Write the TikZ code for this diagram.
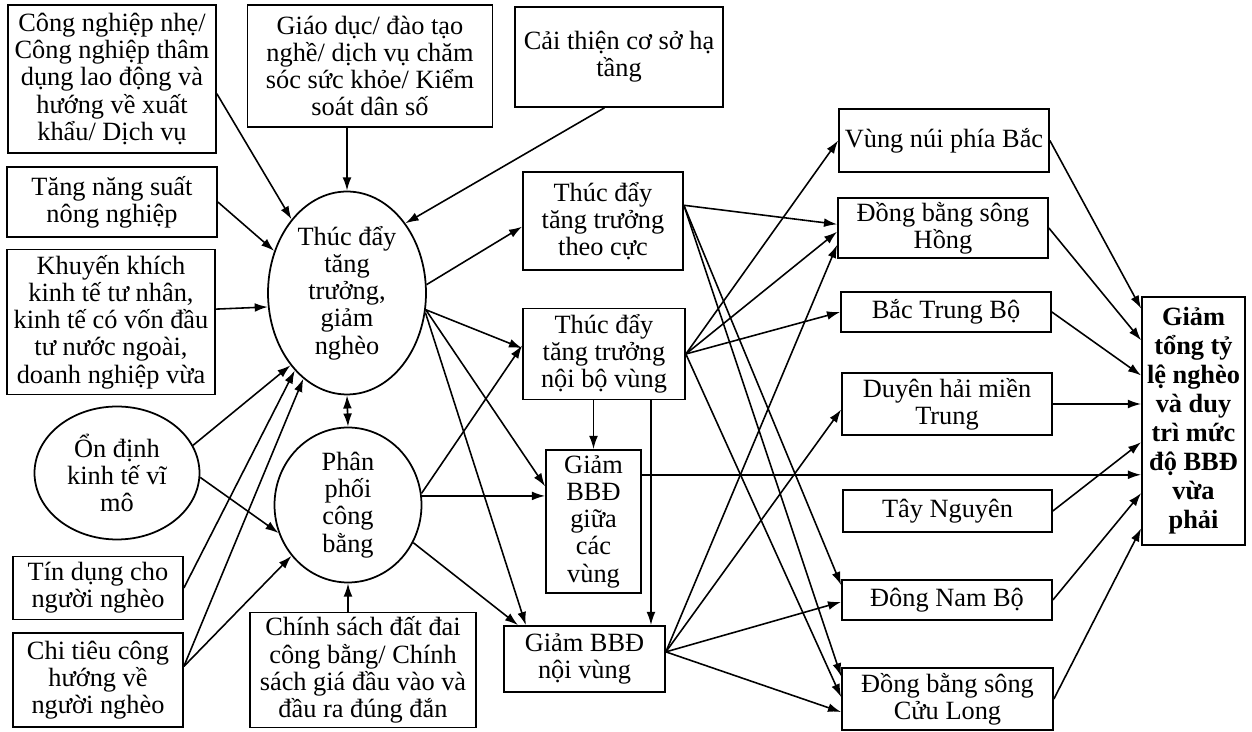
\documentclass[tikz,border=0pt]{standalone}
\usepackage{fontspec}
\setmainfont{Liberation Serif}
\usetikzlibrary{shapes.geometric,arrows,arrows.meta,positioning}

\begin{document}
\begin{tikzpicture}[x=0.02cm,y=-0.02cm,>={Latex[length=7.5pt,width=5pt]},
  box/.style={draw,line width=1pt,align=center,inner sep=1pt,font=\fontsize{15}{15.5}\selectfont},
  oval/.style={draw,ellipse,line width=1pt,align=center,inner sep=0pt,font=\fontsize{15}{15.5}\selectfont},
  link/.style={->,line width=0.9pt}]
\useasboundingbox (0,0) rectangle (1252,732);

% left column
\node (cn) at (112,79) [box,minimum width=4.16cm,minimum height=2.96cm] {Công nghiệp nhẹ/\\Công nghiệp thâm\\dụng lao động và\\hướng về xuất\\khẩu/ Dịch vụ};
\node (nn) at (112,202) [box,minimum width=4.2cm,minimum height=1.4cm] {Tăng năng suất\\nông nghiệp};
\node (kk) at (111,322) [box,minimum width=4.16cm,minimum height=2.9cm] {Khuyến khích\\kinh tế tư nhân,\\kinh tế có vốn đầu\\tư nước ngoài,\\doanh nghiệp vừa};
\node (od) at (117,473) [oval,minimum width=3.3cm,minimum height=2.66cm] {Ổn định\\kinh tế vĩ\\mô};
\node (td) at (98,588) [box,minimum width=3.4cm,minimum height=1.26cm] {Tín dụng cho\\người nghèo};
\node (ct) at (98,680) [box,minimum width=3.4cm,minimum height=1.88cm] {Chi tiêu công\\hướng về\\người nghèo};

% top and centre
\node (gd) at (370,66) [box,minimum width=4.9cm,minimum height=2.44cm] {Giáo dục/ đào tạo\\nghề/ dịch vụ chăm\\sóc sức khỏe/ Kiểm\\soát dân số};
\node (ht) at (619,57) [box,minimum width=4.16cm,minimum height=2cm] {Cải thiện cơ sở hạ\\tầng};
\node (tt) at (347,293) [oval,minimum width=3.16cm,minimum height=4.06cm] {Thúc đẩy\\tăng\\trưởng,\\giảm\\nghèo};
\node (pp) at (348,505) [oval,minimum width=2.94cm,minimum height=3.1cm] {Phân\\phối\\công\\bằng};
\node (cs) at (363,670) [box,minimum width=4.52cm,minimum height=2.3cm] {Chính sách đất đai\\công bằng/ Chính\\sách giá đầu vào và\\đầu ra đúng đắn};

% middle column
\node (cuc) at (603,221) [box,minimum width=3.2cm,minimum height=1.96cm] {Thúc đẩy\\tăng trưởng\\theo cực};
\node (nb) at (604,354) [box,minimum width=3.24cm,minimum height=1.82cm] {Thúc đẩy\\tăng trưởng\\nội bộ vùng};
\node (gv) at (593.5,521.5) [box,minimum width=1.9cm,minimum height=2.86cm] {Giảm\\BBĐ\\giữa\\các\\vùng};
\node (nv) at (584.5,659) [box,minimum width=3.22cm,minimum height=1.32cm] {Giảm BBĐ\\nội vùng};

% regions
\node (bac) at (944,140.5) [box,minimum width=4.2cm,minimum height=1.26cm] {Vùng núi phía Bắc};
\node (hong) at (943,228) [box,minimum width=4.2cm,minimum height=1.2cm] {Đồng bằng sông\\Hồng};
\node (btb) at (946,312) [box,minimum width=4.2cm,minimum height=0.8cm] {Bắc Trung Bộ};
\node (dhmt) at (947,404) [box,minimum width=4.2cm,minimum height=1.24cm] {Duyên hải miền\\Trung};
\node (tn) at (947.5,511) [box,minimum width=4.18cm,minimum height=0.84cm] {Tây Nguyên};
\node (dnb) at (947,600) [box,minimum width=4.2cm,minimum height=0.8cm] {Đông Nam Bộ};
\node (cl) at (947.5,699) [box,minimum width=4.22cm,minimum height=1.24cm] {Đồng bằng sông\\Cửu Long};

\node (goal) at (1193.5,421) [box,minimum width=2.06cm,minimum height=4.96cm,font=\fontsize{15}{16.5}\selectfont\bfseries] {Giảm\\tổng tỷ\\lệ nghèo\\và duy\\trì mức\\độ BBĐ\\vừa\\phải};

% connectors
\foreach \a/\b in {cn.-8/tt.127, nn.east/tt.150, ht.-106/tt.50, kk.7/tt.190,
  od.20/tt.232, od.-3/pp.202, td.east/tt.236, ct.9/tt.243, ct.9/pp.222,
  tt.6/cuc.184, tt.-12/nb.176, tt.-12/gv.144, tt.-14/nv.150,
  pp.9/nb.174, pp.-30/nv.153,
  cuc.11/hong.178, cuc.11/dnb.172, cuc.11/cl.168,
  nb.east/bac.west, nb.east/hong.182, nb.east/btb.west, nb.east/cl.179,
  nv.5/hong.189, nv.5/dhmt.183, nv.5/dnb.181, nv.5/cl.187,
  bac.east/goal.115, hong.east/goal.123, btb.east/goal.139,
  tn.east/goal.202, dnb.east/goal.234, cl.east/goal.244}
  \draw[link] (\a) -- (\b);

\draw[link] (tt.north |- gd.south) -- (tt.north);
\draw[link] (pp.south |- cs.north) -- (pp.south);
\draw[<->,line width=0.9pt] (tt.south) -- (pp.north);
\draw[link] (pp.7) -- (pp.7 -| gv.west);
\draw[link] (gv.north |- nb.south) -- (gv.north);
\draw[link] (nv.27 |- nb.south) -- (nv.27);
\draw[link] (gv.44) -- (gv.44 -| goal.west);
\draw[link] (dhmt.east) -- (dhmt.east -| goal.west);
\end{tikzpicture}
\end{document}
